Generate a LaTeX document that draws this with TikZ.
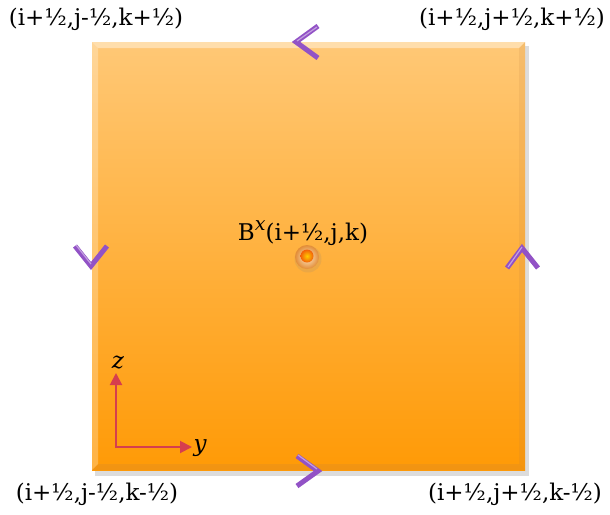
\documentclass[tikz,border=0pt]{standalone}
\usepackage{fontspec}
\setmainfont{DejaVu Serif}
\usepackage{tikz}
\usetikzlibrary{arrows.meta,calc,positioning,shadows}
\definecolor{facetop}{RGB}{255,200,118}
\definecolor{facebot}{RGB}{255,154,6}
\definecolor{edgepurple}{RGB}{146,82,198}
\definecolor{axisred}{RGB}{214,62,78}
\definecolor{dotcore}{RGB}{240,112,10}

\begin{document}
\begin{tikzpicture}[x=1pt,y=-1pt,>=Latex,
  lbl/.style={font=\fontsize{23}{27}\selectfont,inner sep=0pt},
  edgemark/.style={edgepurple,line width=5pt,line cap=butt,line join=miter},
  edgeshine/.style={white,opacity=.45,line width=1.2pt},
  axis/.style={axisred,line width=2pt,-{Triangle[length=12pt,width=12pt]}}]
  \useasboundingbox (0,0) rectangle (610,514);
  % the face
  \coordinate (nw) at (92,42);
  \coordinate (ne) at (525,42);
  \coordinate (se) at (525,470);
  \coordinate (sw) at (92,470);
  \fill[black!45,opacity=.3] (95,46) rectangle (529,476);
  \shade[top color=facetop,bottom color=facebot] (nw) rectangle (se);
  % bevel
  \fill[white,opacity=.4] (nw)--(ne)--(519,48)--(98,48)--cycle;
  \fill[white,opacity=.25] (nw)--(98,48)--(98,464)--(sw)--cycle;
  \fill[brown,opacity=.15] (ne)--(519,48)--(519,464)--(se)--cycle;
  \fill[brown,opacity=.2] (sw)--(98,464)--(519,464)--(se)--cycle;
  % corner labels
  \foreach \n/\x/\y/\txt in {tl/96/19/{(i+½,j-½,k+½)},tr/512/19/{(i+½,j+½,k+½)},
                             bl/97/494/{(i+½,j-½,k-½)},br/515/494/{(i+½,j+½,k-½)}}
    \node[lbl] (\n) at (\x,\y) {\txt};
  % field point
  \node[lbl] (bx) at (303,233) {B\raisebox{.45em}{\itshape\fontsize{19}{20}\selectfont x}(i+½,j,k)};
  \fill[black!50,opacity=.15] (308,259) circle (13.5);
  \shade[inner color=facetop!40!white,outer color=orange!50!brown!90] (307,257) circle (12);
  \shade[inner color=orange!40!yellow,outer color=dotcore!85!red] (307,256) circle (6.5);
  % edge circulation
  \draw[edgemark] (318,26)--(296,42)--(318,58);
  \draw[edgemark] (297,456)--(318,471)--(297,486);
  \draw[edgemark] (75,246)--(91,266)--(107,246);
  \draw[edgemark] (507,268)--(522,248)--(538,268);
  \draw[edgeshine] (317,27)--(297,41);
  \draw[edgeshine] (298,455)--(317,469);
  \draw[edgeshine] (76,245)--(91,264);
  \draw[edgeshine] (508,267)--(522,247);
  % axes
  \coordinate (o) at (116,447);
  \coordinate (zt) at (116,373);
  \coordinate (yt) at (192,447);
  \draw[axis] (o)--(zt);
  \draw[axisred,line width=2pt] ($(o)+(0,1)$)--(o);
  \draw[axis] (o)--(yt);
  \node[lbl] (zl) at (118,363) {\itshape z};
  \node[lbl] (yl) at (200,448) {\itshape y};
\end{tikzpicture}
\end{document}
